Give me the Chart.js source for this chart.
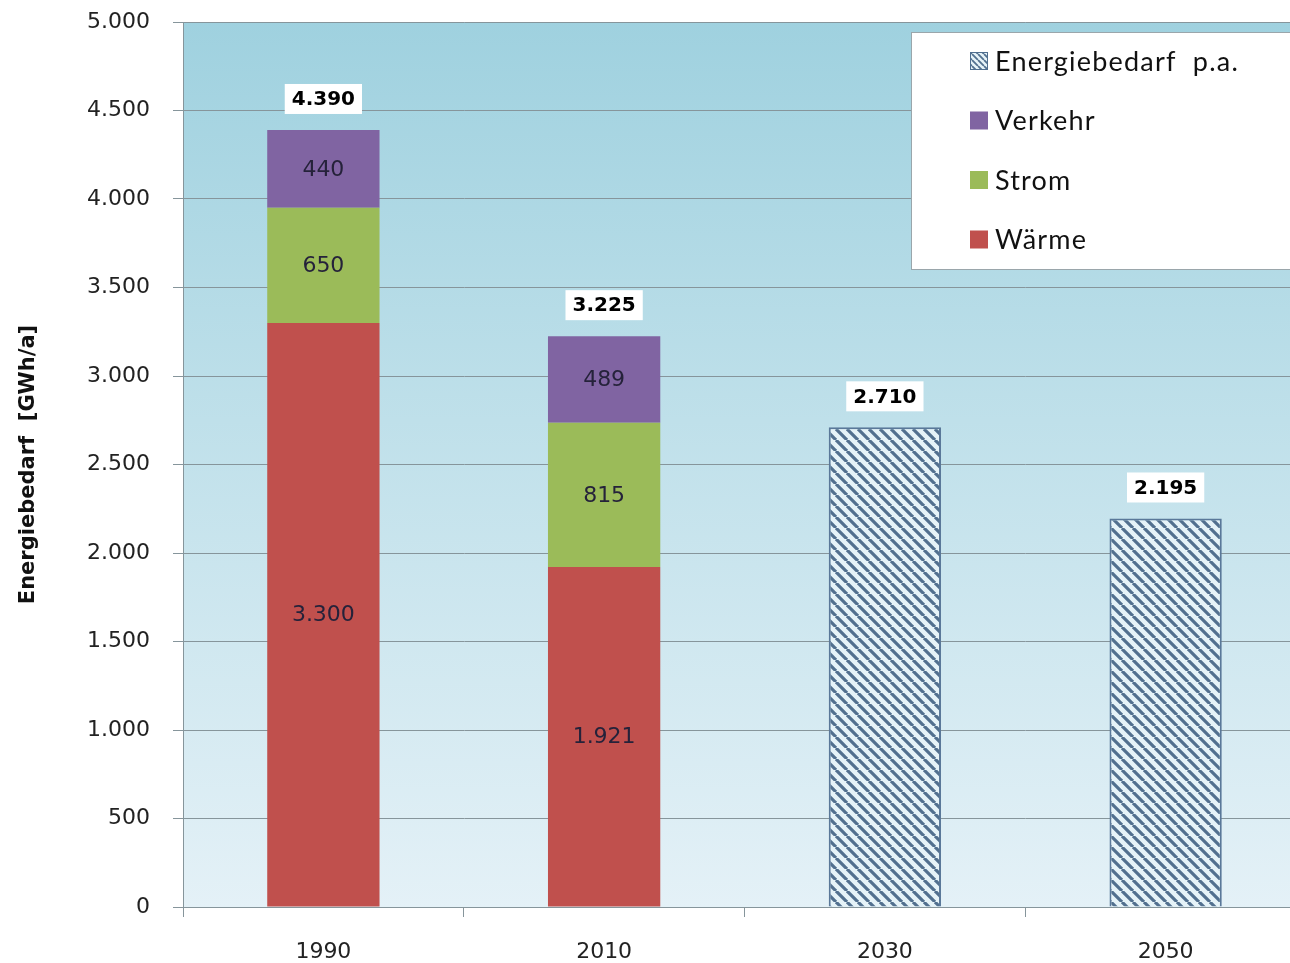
<!DOCTYPE html>
<html lang="de">
<head>
<meta charset="utf-8">
<title>Energiebedarf</title>
<script src="https://cdn.jsdelivr.net/npm/chart.js@4.4.1/dist/chart.umd.min.js"></script>
<style>
  html, body { margin: 0; padding: 0; background: #ffffff; overflow: hidden; }
  #wrap { width: 1310px; height: 963px; }
</style>
</head>
<body>
<div id="wrap"><canvas id="chart" width="1310" height="963"></canvas></div>
<script>
// Energiebedarf in GWh/a je Sektor und Zieljahr
const categories = ['1990', '2010', '2030', '2050'];
const waerme  = [3300, 1921, null, null];
const strom   = [650, 815, null, null];
const verkehr = [440, 489, null, null];
const bedarf  = [null, null, 2710, 2195];
const yMin = 0, yMax = 5000, yStep = 500;

const seriesLabels = ['Wärme', 'Strom', 'Verkehr', 'Energiebedarf  p.a.'];
const seriesColors = ['#c0504d', '#9bbb59', '#8064a2'];

const TICK_FONT = 'DejaVu Sans';
const LEGEND_FONT = 'Lato';

// Zahlen mit Punkt als Tausendertrennzeichen
function fmt(v) {
  return String(Math.round(v)).replace(/\B(?=(\d{3})+(?!\d))/g, '.');
}

// Schraffur für die Prognosebalken
function makeHatch(size, lw) {
  const c = document.createElement('canvas');
  c.width = size; c.height = size;
  const g = c.getContext('2d');
  g.fillStyle = '#e6f3f8';
  g.fillRect(0, 0, size, size);
  g.strokeStyle = '#52708f';
  g.lineWidth = lw;
  g.beginPath();
  for (let k = -1; k <= 1; k++) {
    g.moveTo(k * size, 0);
    g.lineTo(k * size + size, size);
  }
  g.stroke();
  return c;
}
const ctx = document.getElementById('chart').getContext('2d');
const hatch = ctx.createPattern(makeHatch(11, 3.2), 'repeat');
const hatchSmall = ctx.createPattern(makeHatch(6, 1.8), 'repeat');

// Hintergrundverlauf der Zeichenfläche
const plotBackground = {
  id: 'plotBackground',
  beforeDraw(chart) {
    const { ctx, chartArea: a } = chart;
    const grad = ctx.createLinearGradient(0, a.top, 0, a.bottom);
    grad.addColorStop(0, '#9fd1df');
    grad.addColorStop(0.45, '#bfe0ea');
    grad.addColorStop(1, '#e4f1f7');
    ctx.save();
    ctx.fillStyle = grad;
    ctx.fillRect(a.left, a.top, a.right - a.left, a.bottom - a.top);
    ctx.restore();
  }
};

// Werte in den Segmenten und Summen über den Säulen
const valueLabels = {
  id: 'valueLabels',
  afterDatasetsDraw(chart) {
    const { ctx } = chart;
    const xs = chart.scales.x, ys = chart.scales.y;
    ctx.save();
    ctx.textAlign = 'center';
    ctx.textBaseline = 'middle';
    ctx.font = '22px "' + TICK_FONT + '"';
    ctx.fillStyle = '#25223a';
    chart.data.datasets.forEach((ds, di) => {
      if (!ds.segmentLabels) return;
      const meta = chart.getDatasetMeta(di);
      meta.data.forEach((el, i) => {
        const v = ds.data[i];
        if (v == null) return;
        ctx.fillText(fmt(v), el.x, (el.y + el.base) / 2 + 1);
      });
    });
    ctx.font = 'bold 20px "' + TICK_FONT + '"';
    categories.forEach((c, i) => {
      let total = 0;
      chart.data.datasets.forEach(ds => { total += ds.data[i] || 0; });
      const x = xs.getPixelForValue(i);
      const yTop = ys.getPixelForValue(total);
      const txt = fmt(total);
      const w = ctx.measureText(txt).width + 14;
      const cy = yTop - 31;
      ctx.fillStyle = '#ffffff';
      ctx.fillRect(x - w / 2, cy - 15, w, 30);
      ctx.fillStyle = '#000000';
      ctx.fillText(txt, x, cy + 1);
    });
    ctx.restore();
  }
};

// Legende im weißen Kasten oben rechts
const boxLegend = {
  id: 'boxLegend',
  afterDraw(chart) {
    const { ctx } = chart;
    const x0 = 911, y0 = 32, w = 420, h = 237;
    ctx.save();
    ctx.fillStyle = '#ffffff';
    ctx.fillRect(x0, y0, w, h);
    ctx.strokeStyle = '#9aa6ab';
    ctx.lineWidth = 1;
    ctx.strokeRect(x0 + 0.5, y0 + 0.5, w, h);
    const items = chart.data.datasets.slice().reverse();
    ctx.font = '27px "' + LEGEND_FONT + '"';
    ctx.letterSpacing = '1.2px';
    ctx.textBaseline = 'middle';
    ctx.textAlign = 'left';
    items.forEach((ds, k) => {
      const cy = 61 + k * 59.5;
      if (ds.legendHatch) {
        ctx.fillStyle = hatchSmall;
        ctx.fillRect(970, cy - 9, 18, 18);
        ctx.strokeStyle = '#4f6e8f';
        ctx.lineWidth = 1;
        ctx.strokeRect(970.5, cy - 8.5, 17, 17);
      } else {
        ctx.fillStyle = ds.backgroundColor;
        ctx.fillRect(970, cy - 9, 18, 18);
      }
      ctx.fillStyle = '#111111';
      ctx.fillText(ds.label, 995, cy + 1);
    });
    ctx.restore();
  }
};

const gridColor = '#86959b';

new Chart(ctx, {
  type: 'bar',
  data: {
    labels: categories,
    datasets: [
      { label: seriesLabels[0], data: waerme,  backgroundColor: seriesColors[0], segmentLabels: true },
      { label: seriesLabels[1], data: strom,   backgroundColor: seriesColors[1], segmentLabels: true },
      { label: seriesLabels[2], data: verkehr, backgroundColor: seriesColors[2], segmentLabels: true },
      { label: seriesLabels[3], data: bedarf,  backgroundColor: hatch, borderColor: '#5a7899', borderWidth: 2, legendHatch: true }
    ]
  },
  options: {
    responsive: false,
    animation: false,
    events: [],
    layout: { padding: { top: 22, right: 4, left: 0, bottom: 0 } },
    datasets: { bar: { barPercentage: 0.4, categoryPercentage: 1.0 } },
    plugins: {
      legend: { display: false },
      tooltip: { enabled: false },
      title: { display: false }
    },
    scales: {
      x: {
        stacked: true,
        afterFit(scale) { scale.height = 56; scale.paddingLeft = 0; scale.paddingRight = 0; },
        grid: { display: true, offset: true, drawOnChartArea: false, drawTicks: true, tickLength: 10, color: gridColor },
        border: { display: true, color: gridColor, width: 1 },
        ticks: { color: '#222222', font: { family: TICK_FONT, size: 22 }, padding: 22 }
      },
      y: {
        stacked: true,
        min: yMin, max: yMax,
        afterFit(scale) { scale.width = 183; scale.paddingTop = 0; scale.paddingBottom = 0; },
        grid: { color: gridColor, lineWidth: 1, tickLength: 10, drawTicks: true },
        border: { display: true, color: gridColor, width: 1 },
        ticks: {
          stepSize: yStep,
          color: '#222222',
          font: { family: TICK_FONT, size: 22 },
          padding: 23,
          callback: v => fmt(v)
        },
        title: {
          display: true,
          text: 'Energiebedarf  [GWh/a]',
          color: '#111111',
          font: { family: TICK_FONT, size: 21, weight: 'bold' },
          padding: { top: 16, bottom: 0 }
        }
      }
    }
  },
  plugins: [plotBackground, valueLabels, boxLegend]
});
</script>
</body>
</html>
